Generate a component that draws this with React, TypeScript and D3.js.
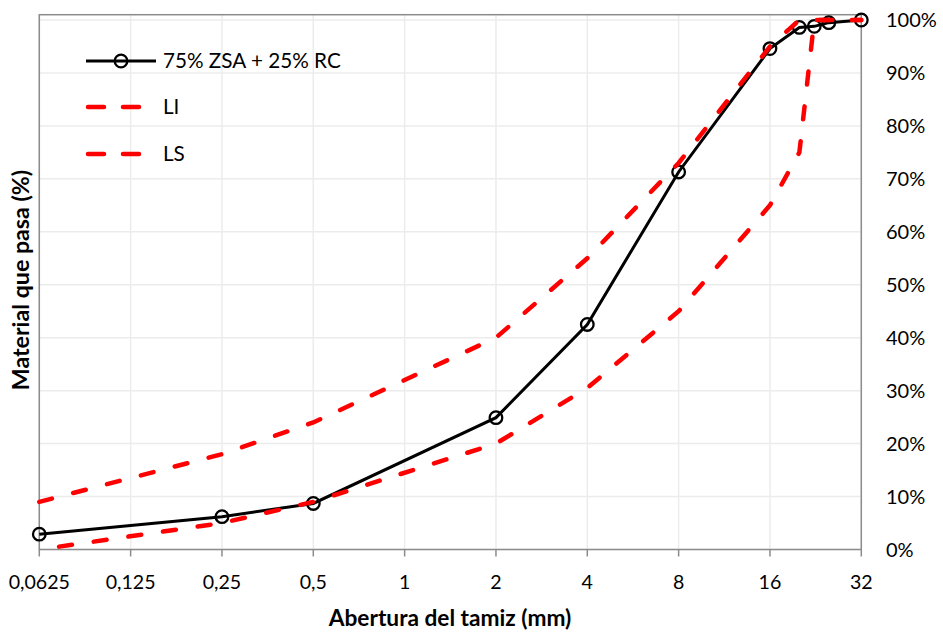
import React from "react";
import * as d3 from "d3";

// sieve openings (mm) and % passing
const mixSizes = [0.0625, 0.25, 0.5, 2, 4, 8, 16, 20, 22.4, 25, 32];
const mixPassing = [2.9, 6.2, 8.7, 24.9, 42.5, 71.3, 94.6, 98.6, 98.8, 99.5, 100];

const liSizes = [0.0625, 0.25, 0.5, 2, 4, 8, 16, 20, 22.4, 32];
const liPassing = [0, 5, 9, 20, 30.5, 45, 65, 75, 100, 100];

const lsSizes = [0.0625, 0.25, 0.5, 1, 2, 4, 8, 16, 20, 32];
const lsPassing = [9, 18, 24, 32, 40, 55, 73, 95, 100, 100];

const xTicks = [0.0625, 0.125, 0.25, 0.5, 1, 2, 4, 8, 16, 32];
const xTickLabels = ["0,0625", "0,125", "0,25", "0,5", "1", "2", "4", "8", "16", "32"];
const yTicks = [0, 10, 20, 30, 40, 50, 60, 70, 80, 90, 100];

const seriesNames = ["75% ZSA + 25% RC", "LI", "LS"];

const W = 943;
const H = 632;
const FONT = "Lato, 'Open Sans', sans-serif";

const App = () => {
  const left = 39.3;
  const right = 861.3;
  const bottom = 549.5;
  const top = 20;

  const x = d3.scaleLog().base(2).domain([0.0625, 32]).range([left, right]);
  const y = d3.scaleLinear().domain([0, 100]).range([bottom, top]);
  const frameTop = y(101);

  const line = d3.line<[number, number]>()
    .x((d) => x(d[0]))
    .y((d) => y(d[1]));

  const mix = mixSizes.map((s, i) => [s, mixPassing[i]] as [number, number]);
  const li = liSizes.map((s, i) => [s, liPassing[i]] as [number, number]);
  const ls = lsSizes.map((s, i) => [s, lsPassing[i]] as [number, number]);

  const dash = "13 22";

  return (
    <svg width={W} height={H} style={{ position: "absolute", left: 0, top: 0, background: "#fff" }} fontFamily={FONT}>
      {/* grid */}
      {yTicks.map((t) => (
        <line key={"gy" + t} x1={left} x2={right} y1={y(t)} y2={y(t)} stroke="#ececec" strokeWidth={1.5} />
      ))}
      {xTicks.map((t) => (
        <line key={"gx" + t} x1={x(t)} x2={x(t)} y1={frameTop} y2={bottom} stroke="#ececec" strokeWidth={1.5} />
      ))}
      {/* frame */}
      <rect x={left} y={frameTop} width={right - left} height={bottom - frameTop} fill="none" stroke="#8c8c8c" strokeWidth={1.5} />
      {/* x ticks */}
      {xTicks.map((t, i) => (
        <g key={"xt" + t}>
          <line x1={x(t)} x2={x(t)} y1={bottom} y2={bottom + 7} stroke="#8c8c8c" strokeWidth={1.5} />
          <text x={x(t)} y={589} textAnchor="middle" fontSize={19.6} fill="#000">{xTickLabels[i]}</text>
        </g>
      ))}
      {/* y labels (right) */}
      {yTicks.map((t) => (
        <text key={"yl" + t} x={886} y={y(t) + 7} fontSize={20} fill="#000">{t + "%"}</text>
      ))}

      {/* series */}
      <path d={line(mix) || ""} fill="none" stroke="#000" strokeWidth={3} />
      {mix.map((d, i) => (
        <circle key={"c" + i} cx={x(d[0])} cy={y(d[1])} r={6.3} fill="none" stroke="#000" strokeWidth={2.3} />
      ))}
      <path d={line(li) || ""} fill="none" stroke="#ff0000" strokeWidth={4.5} strokeDasharray={dash} strokeDashoffset={-20} strokeLinecap="round" />
      <path d={line(ls) || ""} fill="none" stroke="#ff0000" strokeWidth={4.5} strokeDasharray={dash} strokeLinecap="round" />

      {/* legend */}
      <g>
        <line x1={86} x2={156} y1={61} y2={61} stroke="#000" strokeWidth={3} />
        <circle cx={121} cy={61} r={6.3} fill="none" stroke="#000" strokeWidth={2.3} />
        <text x={163} y={68} fontSize={20.7} fill="#000">{seriesNames[0]}</text>
        <line x1={88} x2={139} y1={107} y2={107} stroke="#ff0000" strokeWidth={4.5} strokeDasharray="16 19" strokeLinecap="round" />
        <text x={163} y={114} fontSize={20.7} fill="#000">{seriesNames[1]}</text>
        <line x1={88} x2={139} y1={154} y2={154} stroke="#ff0000" strokeWidth={4.5} strokeDasharray="16 19" strokeLinecap="round" />
        <text x={163} y={161} fontSize={20.7} fill="#000">{seriesNames[2]}</text>
      </g>

      {/* axis titles */}
      <text x={450} y={626} textAnchor="middle" fontSize={22.7} fontWeight="bold" fill="#000">Abertura del tamiz (mm)</text>
      <text transform="translate(29,280) rotate(-90)" textAnchor="middle" fontSize={23.2} fontWeight="bold" fill="#000">Material que pasa (%)</text>
    </svg>
  );
};

export default App;
